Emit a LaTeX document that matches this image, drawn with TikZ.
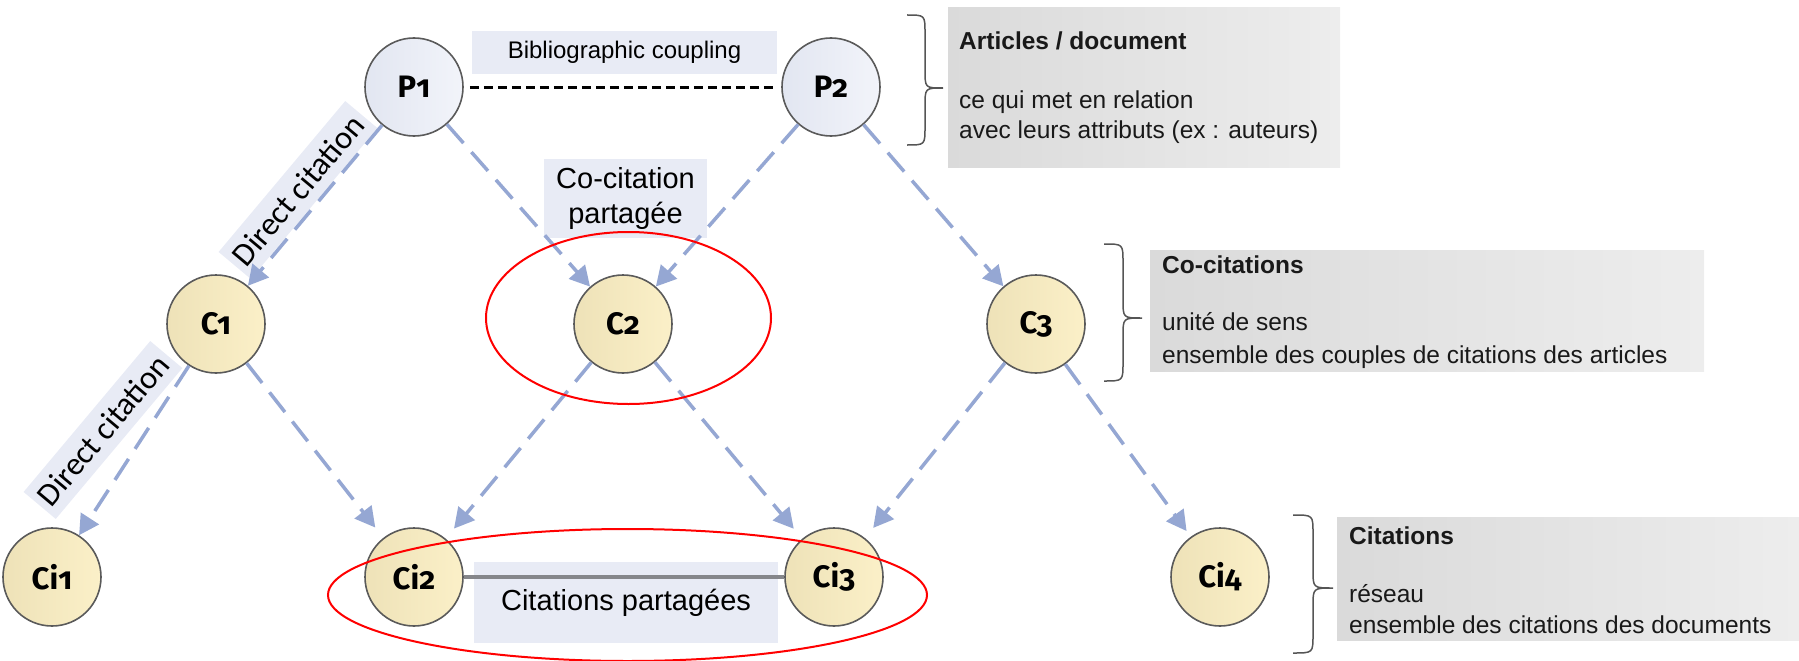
\documentclass[tikz,border=0pt]{standalone}
\usepackage{fontspec}
\setmainfont{Liberation Sans}
\newfontfamily\nodefont[Numbers=OldStyle]{Fira Sans}
\newfontfamily\tagfont{Carlito}
\usetikzlibrary{arrows.meta,shapes.geometric}

\definecolor{linkblue}{HTML}{95A7D3}
\definecolor{tagfill}{HTML}{E8EBF5}
\definecolor{nodeborder}{HTML}{5A5A5A}
\definecolor{pfillA}{HTML}{E2E6F1}
\definecolor{pfillB}{HTML}{F2F4FA}
\definecolor{cfillA}{HTML}{EEE2B8}
\definecolor{cfillB}{HTML}{FBF0C8}
\definecolor{noteA}{HTML}{DADADA}
\definecolor{noteB}{HTML}{EDEDED}
\definecolor{bracegray}{HTML}{555555}
\definecolor{sharedgray}{HTML}{85868A}

% right curly brace: x of the open ends, x of the tip, top y, tip y, bottom y
\newcommand{\notebrace}[5]{%
  \draw[brace] (#1,#3) .. controls ({(#1+#2)/2},#3) .. ({(#1+#2)/2},{#3+18})
    -- ({(#1+#2)/2},{#4-18}) .. controls ({(#1+#2)/2},#4) .. (#2,#4)
    .. controls ({(#1+#2)/2},#4) .. ({(#1+#2)/2},{#4+18})
    -- ({(#1+#2)/2},{#5-18}) .. controls ({(#1+#2)/2},#5) .. (#1,#5);}

\begin{document}
\begin{tikzpicture}[x=1pt,y=-1pt,
  base/.style={draw=nodeborder, line width=1.6pt, inner sep=0pt,
    font=\nodefont\bfseries\fontsize{31}{31}\selectfont},
  pnode/.style={base, circle, minimum size=98pt, left color=pfillA, right color=pfillB},
  cnode/.style={base, circle, minimum size=98pt, left color=cfillA, right color=cfillB},
  link/.style={draw=linkblue, line width=3.5pt, dash pattern=on 25pt off 12pt,
    -{Triangle[length=20pt,width=21pt]}},
  gapped/.style={shorten >=13pt},
  couple/.style={draw=black, line width=3pt, dash pattern=on 9pt off 5pt},
  shared/.style={draw=sharedgray, line width=3.5pt},
  tag/.style={fill=tagfill, inner sep=0pt, font=\fontsize{24}{29}\selectfont},
  ring/.style={draw=red, line width=2pt, ellipse, inner sep=0pt},
  notebox/.style={left color=noteA, right color=noteB, inner sep=0pt, anchor=north west},
  notetitle/.style={anchor=base west, inner sep=0pt, text=black!90, font=\bfseries\fontsize{24.5}{24.5}\selectfont},
  notetext/.style={anchor=base west, inner sep=0pt, text=black!90, font=\fontsize{24.5}{24.5}\selectfont},
  brace/.style={draw=bracegray, line width=1.5pt}
]
\useasboundingbox (0,0) rectangle (1799,661);

% label panels behind the graph
\node[tag, minimum width=305pt, minimum height=43pt] (bibtag) at (624.5,52.5) {Bibliographic coupling};
\node[tag, minimum width=163pt, minimum height=79pt, align=center,
  font=\fontsize{29}{35}\selectfont] (cotag) at (625.5,198.5) {Co-citation\\partagée};
\node[tag, minimum width=304pt, minimum height=81pt,
  font=\fontsize{29}{30}\selectfont] (sharedtag) at (626,602.5) {Citations partagées};
\node[tag, rotate=50, minimum width=197pt, minimum height=42pt,
  font=\tagfont\fontsize{32.5}{32.5}\selectfont] (dc1) at (298,190) {Direct citation};
\node[tag, rotate=50, minimum width=197pt, minimum height=42pt,
  font=\tagfont\fontsize{32.5}{32.5}\selectfont] (dc2) at (103,430) {Direct citation};

% documents, citations, cited references
\node[pnode] (P1) at (414,87) {P1};
\node[pnode] (P2) at (831,87) {P2};
\node[cnode] (C1) at (216,324) {C1};
\node[cnode] (C2) at (623,324) {C2};
\node[cnode] (C3) at (1036,324) {C3};
\node[cnode] (Ci1) at (52,577) {Ci1};
\node[cnode] (Ci2) at (414,577) {Ci2};
\node[cnode] (Ci3) at (834,577) {Ci3};
\node[cnode] (Ci4) at (1220,577) {Ci4};

% links
\draw[couple, shorten <=6pt, shorten >=4pt] (P1) -- (P2);
\draw[shared] (Ci2) -- (Ci3);
\draw[link] (P1) -- (C1);
\draw[link] (P1) -- (C2);
\draw[link] (P2) -- (C2);
\draw[link] (P2) -- (C3);
\draw[link] (C1) -- (Ci1);
\draw[link, gapped] (C1) -- (Ci2);
\draw[link, gapped] (C2) -- (Ci2);
\draw[link, gapped] (C2) -- (Ci3);
\draw[link, gapped] (C3) -- (Ci3);
\draw[link, shorten >=7pt] (C3) -- (Ci4);

% shared groups
\node[ring, minimum width=285pt, minimum height=172pt] (cogroup) at (628.5,318) {};
\node[ring, minimum width=599pt, minimum height=132pt] (shgroup) at (627.5,595) {};

% side notes
\node[notebox, minimum width=392pt, minimum height=160pt] (note1) at (948,7) {};
\node[notetitle] (n1a) at (959,50) {Articles / document};
\node[notetext] (n1b) at (959,108) {ce qui met en relation};
\node[notetext] (n1c) at (959,138) {avec leurs attributs (ex : auteurs)};
\notebrace{907}{943}{15}{88}{145}

\node[notebox, minimum width=554pt, minimum height=121pt] (note2) at (1150,250) {};
\node[notetitle] (n2a) at (1162,273) {Co-citations};
\node[notetext] (n2b) at (1162,330) {unité de sens};
\node[notetext] (n2c) at (1162,363) {ensemble des couples de citations des articles};
\notebrace{1104}{1142}{244}{318}{381}

\node[notebox, minimum width=462pt, minimum height=123pt] (note3) at (1337,517) {};
\node[notetitle] (n3a) at (1349,544) {Citations};
\node[notetext] (n3b) at (1349,602) {réseau};
\node[notetext] (n3c) at (1349,633) {ensemble des citations des documents};
\notebrace{1293}{1333}{515}{588}{653}
\end{tikzpicture}
\end{document}
